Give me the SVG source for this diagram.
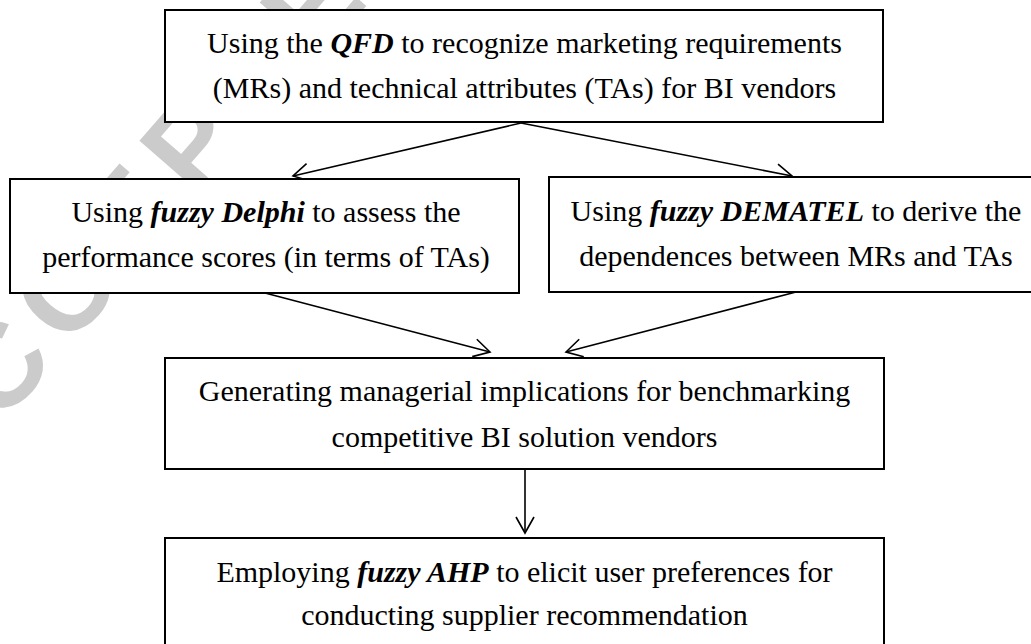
<svg xmlns="http://www.w3.org/2000/svg" width="1031" height="644" viewBox="0 0 1031 644">
  <style>
    .box { fill: #ffffff; stroke: #000000; stroke-width: 2; }
    .lbl { font-family: "Times New Roman", "Liberation Serif", serif; font-size: 30px; fill: #000000; text-anchor: middle; }
    .em { font-weight: bold; font-style: italic; }
    .edge { fill: none; stroke: #000000; stroke-width: 1.6; marker-end: url(#open-arrow); }
    .stamp { font-family: "Liberation Sans", Arial, sans-serif; font-weight: bold; font-size: 120px; letter-spacing: 15px; fill: #cbcbcb; }
  </style>
  <defs>
    <marker id="open-arrow" markerUnits="userSpaceOnUse" markerWidth="24" markerHeight="24" viewBox="-20 -12 24 24" refX="0" refY="0" orient="auto">
      <path d="M -16 -9 L 0 0 L -16 9" fill="none" stroke="#000000" stroke-width="1.6"/>
    </marker>
  </defs>

  <rect width="1031" height="644" fill="#ffffff"/>

  <!-- diagonal background stamp -->
  <text class="stamp" transform="translate(-66 503) rotate(-49)">ACCEPTED</text>

  <!-- connectors -->
  <g id="connectors">
    <path class="edge" d="M 521 123 L 293 176"/>
    <path class="edge" d="M 521 123 L 792 176"/>
    <path class="edge" d="M 265 293 L 490 352"/>
    <path class="edge" d="M 796 292 L 566 352"/>
    <path class="edge" d="M 525 469 L 525 533"/>
  </g>

  <g id="qfd">
    <rect class="box" x="165" y="10" width="718" height="112"/>
    <text class="lbl" x="524.5" y="53">Using the <tspan class="em">QFD</tspan> to recognize marketing requirements</text>
    <text class="lbl" x="524.5" y="98">(MRs) and technical attributes (TAs) for BI vendors</text>
  </g>

  <g id="fuzzy-delphi">
    <rect class="box" x="10" y="179" width="509" height="114"/>
    <text class="lbl" x="266" y="222">Using <tspan class="em">fuzzy Delphi</tspan> to assess the</text>
    <text class="lbl" x="266" y="267">performance scores (in terms of TAs)</text>
  </g>

  <g id="fuzzy-dematel">
    <rect class="box" x="549" y="177" width="496" height="115"/>
    <text class="lbl" x="796" y="221">Using <tspan class="em">fuzzy DEMATEL</tspan> to derive the</text>
    <text class="lbl" x="796" y="266">dependences between MRs and TAs</text>
  </g>

  <g id="implications">
    <rect class="box" x="165" y="358" width="719" height="111"/>
    <text class="lbl" x="524.5" y="401">Generating managerial implications for benchmarking</text>
    <text class="lbl" x="524.5" y="447">competitive BI solution vendors</text>
  </g>

  <g id="fuzzy-ahp">
    <rect class="box" x="165" y="538" width="719" height="130"/>
    <text class="lbl" x="524.5" y="582">Employing <tspan class="em">fuzzy AHP</tspan> to elicit user preferences for</text>
    <text class="lbl" x="524.5" y="625">conducting supplier recommendation</text>
  </g>
</svg>
